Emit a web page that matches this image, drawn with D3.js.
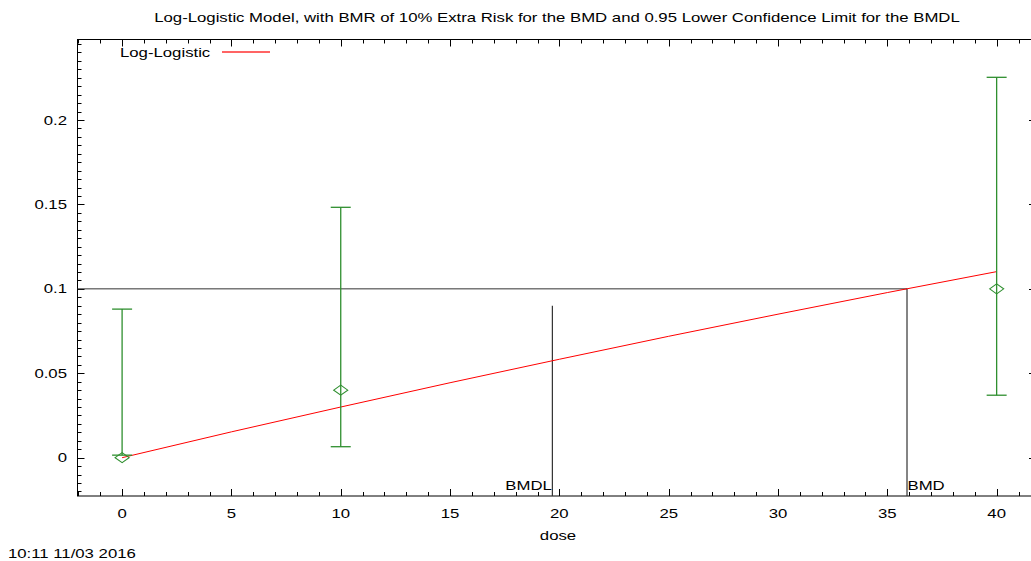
<!DOCTYPE html>
<html><head><meta charset="utf-8">
<script src="https://cdn.jsdelivr.net/npm/d3@7"></script>
<style>
body{margin:0;background:#fff;}
svg text{font-family:"Liberation Sans",Arial,sans-serif;fill:#000;}
</style></head>
<body><svg id="c" width="1031" height="561"></svg>
<script>
// ---- data ----
const doses = [0, 10, 40];
const observed = [0, 0.04, 0.1];
const ciLower = [0.0015, 0.0065, 0.037];
const ciUpper = [0.088, 0.1483, 0.2253];
const modelDose = [0, 5, 10, 15, 20, 25, 30, 35, 40];
const modelResp = [0, 0.0153, 0.0300, 0.0444, 0.0583, 0.0719, 0.0850, 0.0978, 0.1102];
const bmr = 0.1;
const bmd = 35.9;
const bmdl = 19.68;
const bmdlTop = 0.09;
const xTicks = [0, 5, 10, 15, 20, 25, 30, 35, 40];
const yTicks = [0, 0.05, 0.1, 0.15, 0.2];
const titleText = "Log-Logistic Model, with BMR of 10% Extra Risk for the BMD and 0.95 Lower Confidence Limit for the BMDL";

const svg = d3.select("#c");
const L = 77.5, T = 39.5, B = 496, R = 1036;
const x = d3.scaleLinear().domain([-2.04, 41.8]).range([L, R]);
const y = d3.scaleLinear().domain([-0.0227, 0.2477]).range([B, T]);
const green = "#2f8f2f";
const SX = 1.34, FS = "12.5px";

function label(px, py, str, anchor) {
  return svg.append("text")
    .attr("transform", `translate(${px},${py}) scale(${SX},1)`)
    .attr("text-anchor", anchor || "start")
    .attr("font-size", FS).text(str);
}

// frame
svg.append("rect").attr("x", L).attr("y", T).attr("width", R - L).attr("height", B - T)
  .attr("fill", "none").attr("stroke", "#000").attr("stroke-width", 1);

// ticks
const g = svg.append("g").attr("stroke", "#000").attr("stroke-width", 1);
d3.range(-2, 42, 1).forEach(v => {
  const major = v % 5 === 0;
  const len = major ? 7 : 4;
  const px = Math.round(x(v)) + 0.5;
  g.append("line").attr("x1", px).attr("x2", px).attr("y1", B).attr("y2", B - len);
  g.append("line").attr("x1", px).attr("x2", px).attr("y1", T).attr("y2", T + len);
});
d3.range(-4, 50, 1).map(i => i * 0.005).forEach(v => {
  const major = Math.round(v * 1000) % 50 === 0;
  const len = major ? 7 : 4;
  if (y(v) < T || y(v) > B) return;
  const py = Math.round(y(v)) + 0.5;
  g.append("line").attr("x1", L).attr("x2", L + len).attr("y1", py).attr("y2", py);
  g.append("line").attr("x1", R).attr("x2", R - len).attr("y1", py).attr("y2", py);
});

// tick labels
xTicks.forEach(d => label(x(d), 518, d, "middle"));
yTicks.forEach(d => label(67, y(d) + 4.5, d, "end"));

// title, axis label, timestamp
label(557, 22, titleText, "middle");
label(558, 540, "dose", "middle");
label(8, 558, "10:11 11/03 2016", "start");

// BMR horizontal + BMD / BMDL verticals
const ref = "#333";
svg.append("line").attr("x1", L).attr("x2", x(bmd)).attr("y1", y(bmr)).attr("y2", y(bmr))
  .attr("stroke", ref).attr("stroke-width", 1);
svg.append("line").attr("x1", x(bmd)).attr("x2", x(bmd)).attr("y1", y(bmr)).attr("y2", B)
  .attr("stroke", ref).attr("stroke-width", 1.2);
svg.append("line").attr("x1", x(bmdl)).attr("x2", x(bmdl)).attr("y1", y(bmdlTop)).attr("y2", B)
  .attr("stroke", ref).attr("stroke-width", 1.2);
label(x(bmdl) - 0.5, 490, "BMDL", "end");
label(x(bmd) + 0.5, 490, "BMD", "start");

// model curve
const line = d3.line().x((d, i) => x(modelDose[i])).y(d => y(d));
svg.append("path").datum(modelResp).attr("d", line).attr("fill", "none")
  .attr("stroke", "#ff0000").attr("stroke-width", 1);

// error bars
const eb = svg.append("g").attr("stroke", green).attr("stroke-width", 1.3).attr("fill", "none");
doses.forEach((d, i) => {
  const cx = x(d);
  eb.append("line").attr("x1", cx).attr("x2", cx).attr("y1", y(ciLower[i])).attr("y2", y(ciUpper[i]));
  eb.append("line").attr("x1", cx - 10).attr("x2", cx + 10).attr("y1", y(ciLower[i])).attr("y2", y(ciLower[i]));
  eb.append("line").attr("x1", cx - 10).attr("x2", cx + 10).attr("y1", y(ciUpper[i])).attr("y2", y(ciUpper[i]));
  const cy = y(observed[i]);
  eb.append("path").attr("d", `M${cx - 7},${cy} L${cx},${cy - 5} L${cx + 7},${cy} L${cx},${cy + 5} Z`)
    .attr("fill", "none").attr("stroke-width", 1.1);
});

// legend
label(120, 57, "Log-Logistic", "start");
svg.append("line").attr("x1", 222).attr("x2", 270).attr("y1", 52).attr("y2", 52)
  .attr("stroke", "#ff3030").attr("stroke-width", 1.3);
</script></body></html>
